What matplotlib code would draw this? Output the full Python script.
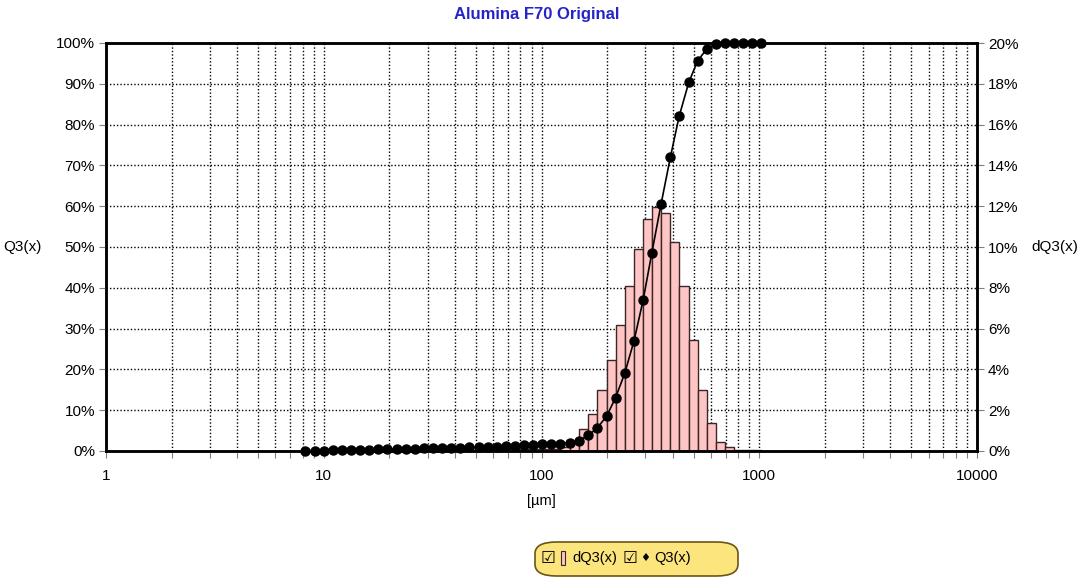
#Particle size distribution chart, Alumina F70 Original
import matplotlib.pyplot as plt
import numpy as np
from matplotlib.patches import FancyBboxPatch, Rectangle
from matplotlib.ticker import FixedLocator, LogLocator, NullFormatter

plt.rcParams['font.family'] = ['Liberation Sans', 'DejaVu Sans']

# particle sizes [um] where the cumulative points sit (also the bar edges)
size_um = [8.24, 9.07, 9.99, 11.0, 12.1, 13.3, 14.7, 16.2, 17.8, 19.6,
           21.6, 23.8, 26.2, 28.8, 31.7, 34.9, 38.5, 42.4, 46.6, 51.4,
           56.5, 62.3, 68.6, 75.5, 83.1, 91.5, 100.8, 111, 122, 135,
           148, 164, 180, 199, 219, 241, 266, 293, 321, 354,
           391, 429, 475, 521, 573, 632, 694, 764, 841, 926, 1020]

# cumulative distribution Q3(x) in %
q3_pct = [0.0, 0.05, 0.1, 0.15, 0.2, 0.25, 0.3, 0.35, 0.4, 0.45,
          0.5, 0.55, 0.6, 0.65, 0.7, 0.75, 0.8, 0.85, 0.9, 0.95,
          1.0, 1.1, 1.2, 1.3, 1.4, 1.5, 1.6, 1.7, 1.8, 2.0,
          2.5, 3.8, 5.6, 8.5, 13.1, 19.0, 27.0, 37.0, 48.5, 60.5,
          72.1, 82.1, 90.4, 95.6, 98.5, 99.7, 99.95, 100, 100, 100, 100]

# class fraction dQ3(x) in % for each bin between neighbouring sizes
dq3_pct = [0.05, 0.05, 0.05, 0.05, 0.05, 0.05, 0.05, 0.05, 0.05, 0.05,
           0.05, 0.05, 0.05, 0.05, 0.05, 0.05, 0.05, 0.05, 0.05, 0.05,
           0.1, 0.1, 0.1, 0.1, 0.1, 0.1, 0.1, 0.1, 0.2, 0.4,
           1.08, 1.80, 2.99, 4.46, 6.18, 8.09, 9.88, 11.36, 11.98, 11.68,
           10.26, 8.09, 5.44, 2.99, 1.36, 0.43, 0.18, 0.06, 0.04, 0.03]

x_ticks = [1, 10, 100, 1000, 10000]

W, H = 1080, 579
fig = plt.figure(figsize=(W / 100, H / 100), dpi=100)
ax = fig.add_axes([106 / W, 128 / H, 871 / W, 408 / H])
ax2 = ax.twinx()

# bars go on the right axis, drawn below the cumulative curve
ax.set_zorder(2)
ax2.set_zorder(1)
ax.patch.set_visible(False)

edges = np.array(size_um)
ax2.bar(edges[:-1], dq3_pct, width=np.diff(edges), align='edge',
        facecolor='#ffc4c4', edgecolor='#3c2626', linewidth=1.0)

ax.plot(size_um, q3_pct, color='black', linewidth=1.2, marker='o',
        markersize=6.5, markerfacecolor='black', markeredgecolor='black', clip_on=False)

ax.set_xscale('log')
ax.set_xlim(1, 10000)
ax.set_ylim(0, 100)
ax2.set_ylim(0, 20)

ax.xaxis.set_major_locator(FixedLocator(x_ticks))
ax.set_xticklabels([str(t) for t in x_ticks])
ax.xaxis.set_minor_locator(LogLocator(base=10, subs=np.arange(2, 10)))
ax.xaxis.set_minor_formatter(NullFormatter())

ax.set_yticks(np.arange(0, 101, 10))
ax.set_yticklabels(['%d%%' % v for v in range(0, 101, 10)])
ax2.set_yticks(np.arange(0, 21, 2))
ax2.set_yticklabels(['%d%%' % v for v in range(0, 21, 2)])

# dotted grid behind the bars (the twin x axis is switched back on only for its grid)
ax2.xaxis.set_visible(True)
ax2.tick_params(axis='x', which='both', bottom=False, top=False,
                labelbottom=False, labeltop=False)
ax2.set_axisbelow(True)
grid_style = dict(color='black', linestyle=(0, (1, 1.5)), linewidth=1.0)
ax2.grid(True, axis='y', **grid_style)
ax2.xaxis.grid(True, which='both', **grid_style)

for a in (ax, ax2):
    for s in a.spines.values():
        s.set_linewidth(1.8)
        s.set_color('black')
ax.tick_params(axis='both', which='both', direction='out', length=5, width=0.8,
               color='#808080', labelsize=11, pad=3)
ax2.tick_params(axis='y', direction='out', length=5, width=0.8, color='#808080',
                labelsize=11, pad=3)
ax.tick_params(axis='x', which='both', pad=8)

ax.set_xlabel('[µm]', fontsize=10.5, labelpad=8)
fig.text(22 / W, 1 - 247 / H, 'Q3(x)', ha='center', va='center', fontsize=11)
fig.text(1055 / W, 1 - 247 / H, 'dQ3(x)', ha='center', va='center', fontsize=11)
fig.text(537 / W, 1 - 14 / H, 'Alumina F70 Original', ha='center', va='center',
         fontsize=12, fontweight='bold', color='#2424c8')

# legend box at the bottom
box = FancyBboxPatch((535 / W, 1 - 576 / H), 203 / W, 34 / H,
                     boxstyle='round,pad=0,rounding_size=0.02', transform=fig.transFigure,
                     facecolor='#fce57c', edgecolor='#6b5514', linewidth=1.2)
fig.patches.append(box)
ly = 1 - 558 / H
fig.text(548 / W, ly, '☑', ha='center', va='center', fontsize=12, family='DejaVu Sans')
fig.patches.append(Rectangle((561 / W, ly - 7 / H), 4 / W, 14 / H, transform=fig.transFigure,
                             facecolor='#ffc4c4', edgecolor='#3c2626', linewidth=0.8))
fig.text(572 / W, ly, 'dQ3(x)', ha='left', va='center', fontsize=10.5)
fig.text(630 / W, ly, '☑', ha='center', va='center', fontsize=12, family='DejaVu Sans')
fig.text(645 / W, ly, '♦', ha='center', va='center', fontsize=8, family='DejaVu Sans')
fig.text(654 / W, ly, 'Q3(x)', ha='left', va='center', fontsize=10.5)

fig.savefig('out.png', dpi=100)
